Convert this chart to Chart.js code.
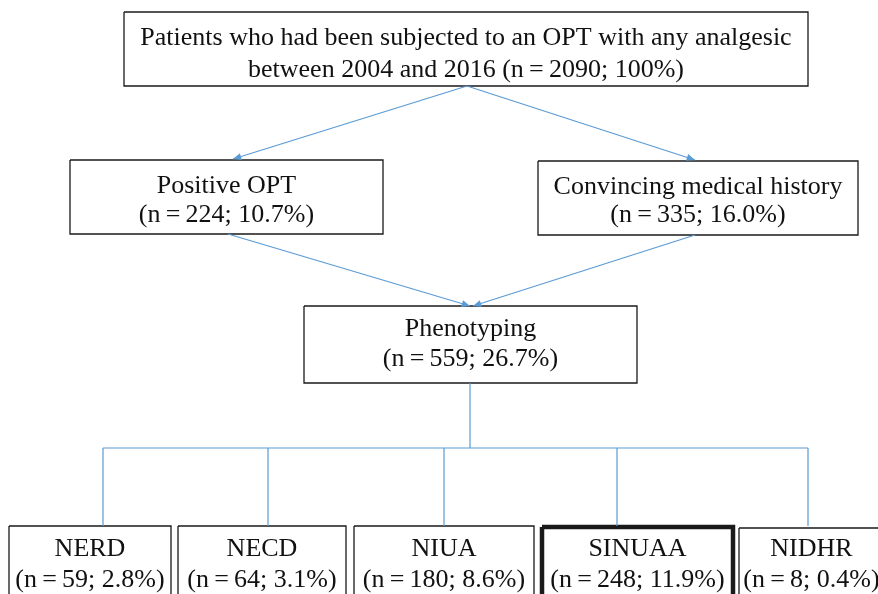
<!DOCTYPE html>
<html>
<head>
<meta charset="utf-8">
<script src="https://cdn.jsdelivr.net/npm/chart.js@4"></script>
<style>
  body { margin: 0; background: #fff; }
  #wrap { width: 878px; height: 594px; }
</style>
</head>
<body>
<div id="wrap"><canvas id="flow"></canvas></div>
<script>
// flow data
const labels = ["Patients who had been subjected to an OPT with any analgesic", "Positive OPT", "Convincing medical history", "Phenotyping", "NERD", "NECD", "NIUA", "SINUAA", "NIDHR"];
const periodText = "between 2004 and 2016";
const counts = [2090, 224, 335, 559, 59, 64, 180, 248, 8];
const percents = [100, 10.7, 16.0, 26.7, 2.8, 3.1, 8.6, 11.9, 0.4];
const highlighted = ["SINUAA"];

// layout (axis units = pixels of the figure): box [x0, y0, x1, y1]
const boxes = [
  [124, 12, 808, 86],
  [70, 160, 383, 234],
  [538, 161, 858, 235],
  [304, 306, 637, 383],
  [9, 526, 171, 604],
  [178, 526, 346, 604],
  [354, 526, 534, 604],
  [542, 527, 733, 604],
  [739, 528, 884, 604]
];
// text line positions per box: [first line y, second line y]
const textY = [[38, 70], [186, 215], [187, 215], [329, 359], [549, 580], [549, 580], [549, 580], [549, 580], [549, 580]];
const arrows = [
  [[467, 86], [233, 159]],
  [[467, 86], [695, 160]],
  [[228, 234], [470, 306]],
  [[695, 235], [473, 306]]
];
const branchX = [103, 268, 444, 617, 808];

const BLUE = "#5b9bd5";

function pctText(p) { return p === 100 ? "100%" : p.toFixed(1) + "%"; }
function nText(i) { return "(n\u2009=\u2009" + counts[i] + "; " + pctText(percents[i]) + ")"; }

const datasets = [];
arrows.forEach(a => datasets.push({
  data: a.map(p => ({ x: p[0], y: p[1] })), arrow: true,
  showLine: true, borderColor: BLUE, borderWidth: 1.2, pointRadius: 0
}));
// tree from Phenotyping to the phenotypes
datasets.push({ data: [{ x: 470, y: 383 }, { x: 470, y: 448 }], showLine: true, borderColor: BLUE, borderWidth: 1.2, pointRadius: 0 });
datasets.push({ data: [{ x: branchX[0], y: 448 }, { x: branchX[branchX.length - 1], y: 448 }], showLine: true, borderColor: BLUE, borderWidth: 1.2, pointRadius: 0 });
branchX.forEach(x => datasets.push({
  data: [{ x, y: 448 }, { x, y: 526 }], showLine: true, borderColor: BLUE, borderWidth: 1.2, pointRadius: 0
}));
boxes.forEach((b, i) => datasets.push({
  data: [{ x: b[0], y: b[1] }, { x: b[2], y: b[1] }, { x: b[2], y: b[3] }, { x: b[0], y: b[3] }, { x: b[0], y: b[1] }],
  showLine: true, borderColor: "#1a1a1a", pointRadius: 0,
  borderWidth: highlighted.includes(labels[i]) ? 4.5 : 1.3,
  borderJoinStyle: "miter"
}));

const flowPlugin = {
  id: "flowText",
  afterDatasetsDraw(chart) {
    const { ctx, scales: { x, y } } = chart;
    ctx.save();
    // arrow heads
    chart.data.datasets.forEach(ds => {
      if (!ds.arrow) return;
      const p0 = ds.data[0], p1 = ds.data[1];
      const x0 = x.getPixelForValue(p0.x), y0 = y.getPixelForValue(p0.y);
      const x1 = x.getPixelForValue(p1.x), y1 = y.getPixelForValue(p1.y);
      const ang = Math.atan2(y1 - y0, x1 - x0);
      ctx.fillStyle = BLUE;
      ctx.beginPath();
      ctx.moveTo(x1, y1);
      ctx.lineTo(x1 - 9 * Math.cos(ang - 0.4), y1 - 9 * Math.sin(ang - 0.4));
      ctx.lineTo(x1 - 9 * Math.cos(ang + 0.4), y1 - 9 * Math.sin(ang + 0.4));
      ctx.closePath();
      ctx.fill();
    });
    // box text
    ctx.fillStyle = "#111";
    ctx.font = "26px 'Liberation Serif', 'Times New Roman', serif";
    ctx.textAlign = "center";
    ctx.textBaseline = "middle";
    labels.forEach((lab, i) => {
      const b = boxes[i];
      const cx = x.getPixelForValue((b[0] + b[2]) / 2);
      let line2 = nText(i);
      if (i === 0) line2 = periodText + " " + nText(i);
      ctx.fillText(lab, cx, y.getPixelForValue(textY[i][0]));
      ctx.fillText(line2, cx, y.getPixelForValue(textY[i][1]));
    });
    ctx.restore();
  }
};

new Chart(document.getElementById("flow"), {
  type: "scatter",
  data: { datasets },
  options: {
    responsive: true,
    maintainAspectRatio: false,
    animation: false,
    layout: { padding: 0 },
    plugins: { legend: { display: false }, tooltip: { enabled: false } },
    scales: {
      x: { type: "linear", min: 0, max: 878, display: false },
      y: { type: "linear", min: 0, max: 594, reverse: true, display: false }
    }
  },
  plugins: [flowPlugin]
});
</script>
</body>
</html>
